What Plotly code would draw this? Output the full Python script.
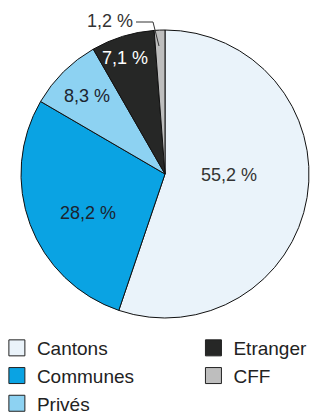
import plotly.graph_objects as go

categories = ["Cantons", "Communes", "Privés", "Etranger", "CFF"]
values = [55.2, 28.2, 8.3, 7.1, 1.2]
label_texts = ["55,2 %", "28,2 %", "8,3 %", "7,1 %", "1,2 %"]
colors = ["#eaf3fa", "#0aa3e3", "#8dd2f2", "#262726", "#bebebe"]
label_colors = ["#333333", "#1c2430", "#1c2430", "#ffffff", "#333333"]
# label positions in pixels (x, y from top)
label_px = [(229, 175), (88, 213), (87, 96), (125, 58), (110, 21)]
legend1 = ["Cantons", "Communes", "Privés"]
legend2 = ["Etranger", "CFF"]

W, H = 312, 414
FONT = "Liberation Sans, Arial, Helvetica, sans-serif"

fig = go.Figure()
fig.add_trace(go.Pie(
    labels=categories, values=values, sort=False, direction="clockwise",
    rotation=0, textinfo="none", hoverinfo="label+percent",
    marker=dict(colors=colors, line=dict(color="#111111", width=1)),
    domain=dict(x=[21 / W, 309 / W], y=[1 - 318 / H, 1 - 30 / H]),
    showlegend=False,
))

for name in categories:
    i = categories.index(name)
    fig.add_trace(go.Scatter(
        x=[None], y=[None], mode="markers", name=name,
        marker=dict(symbol="square", size=16, color=colors[i],
                    line=dict(color="#222222", width=1)),
        legend="legend" if name in legend1 else "legend2",
        legendgroup=name,
    ))

for i, t in enumerate(label_texts):
    px, py = label_px[i]
    fig.add_annotation(x=px / W, y=1 - py / H, xref="paper", yref="paper",
                       xanchor="center", yanchor="middle",
                       text=t, showarrow=False,
                       font=dict(size=18, color=label_colors[i], family=FONT))

# leader line for the small slice
pts = [(136, 22), (153, 22), (159, 46)]
path = "M " + " L ".join(f"{x / W},{1 - y / H}" for x, y in pts)
fig.add_shape(type="path", path=path, xref="paper", yref="paper",
              line=dict(color="#333333", width=1))

legend_common = dict(font=dict(size=19, color="#222222", family=FONT),
                     orientation="v", yanchor="top", xanchor="left",
                     bgcolor="rgba(0,0,0,0)", tracegroupgap=0,
                     itemclick=False, itemdoubleclick=False)
fig.update_layout(
    width=W, height=H,
    margin=dict(l=0, r=0, t=0, b=0, pad=0, autoexpand=False),
    paper_bgcolor="white", plot_bgcolor="white",
    xaxis=dict(visible=False, domain=[0, 0.01]),
    yaxis=dict(visible=False, domain=[0, 0.01]),
    legend=dict(x=-0.01, y=1 - 329 / H, **legend_common),
    legend2=dict(x=0.62, y=1 - 329 / H, **legend_common),
    font=dict(family=FONT),
)

fig.write_html("out.html", config={"displayModeBar": False},
               post_script="document.body.style.margin='0';")
